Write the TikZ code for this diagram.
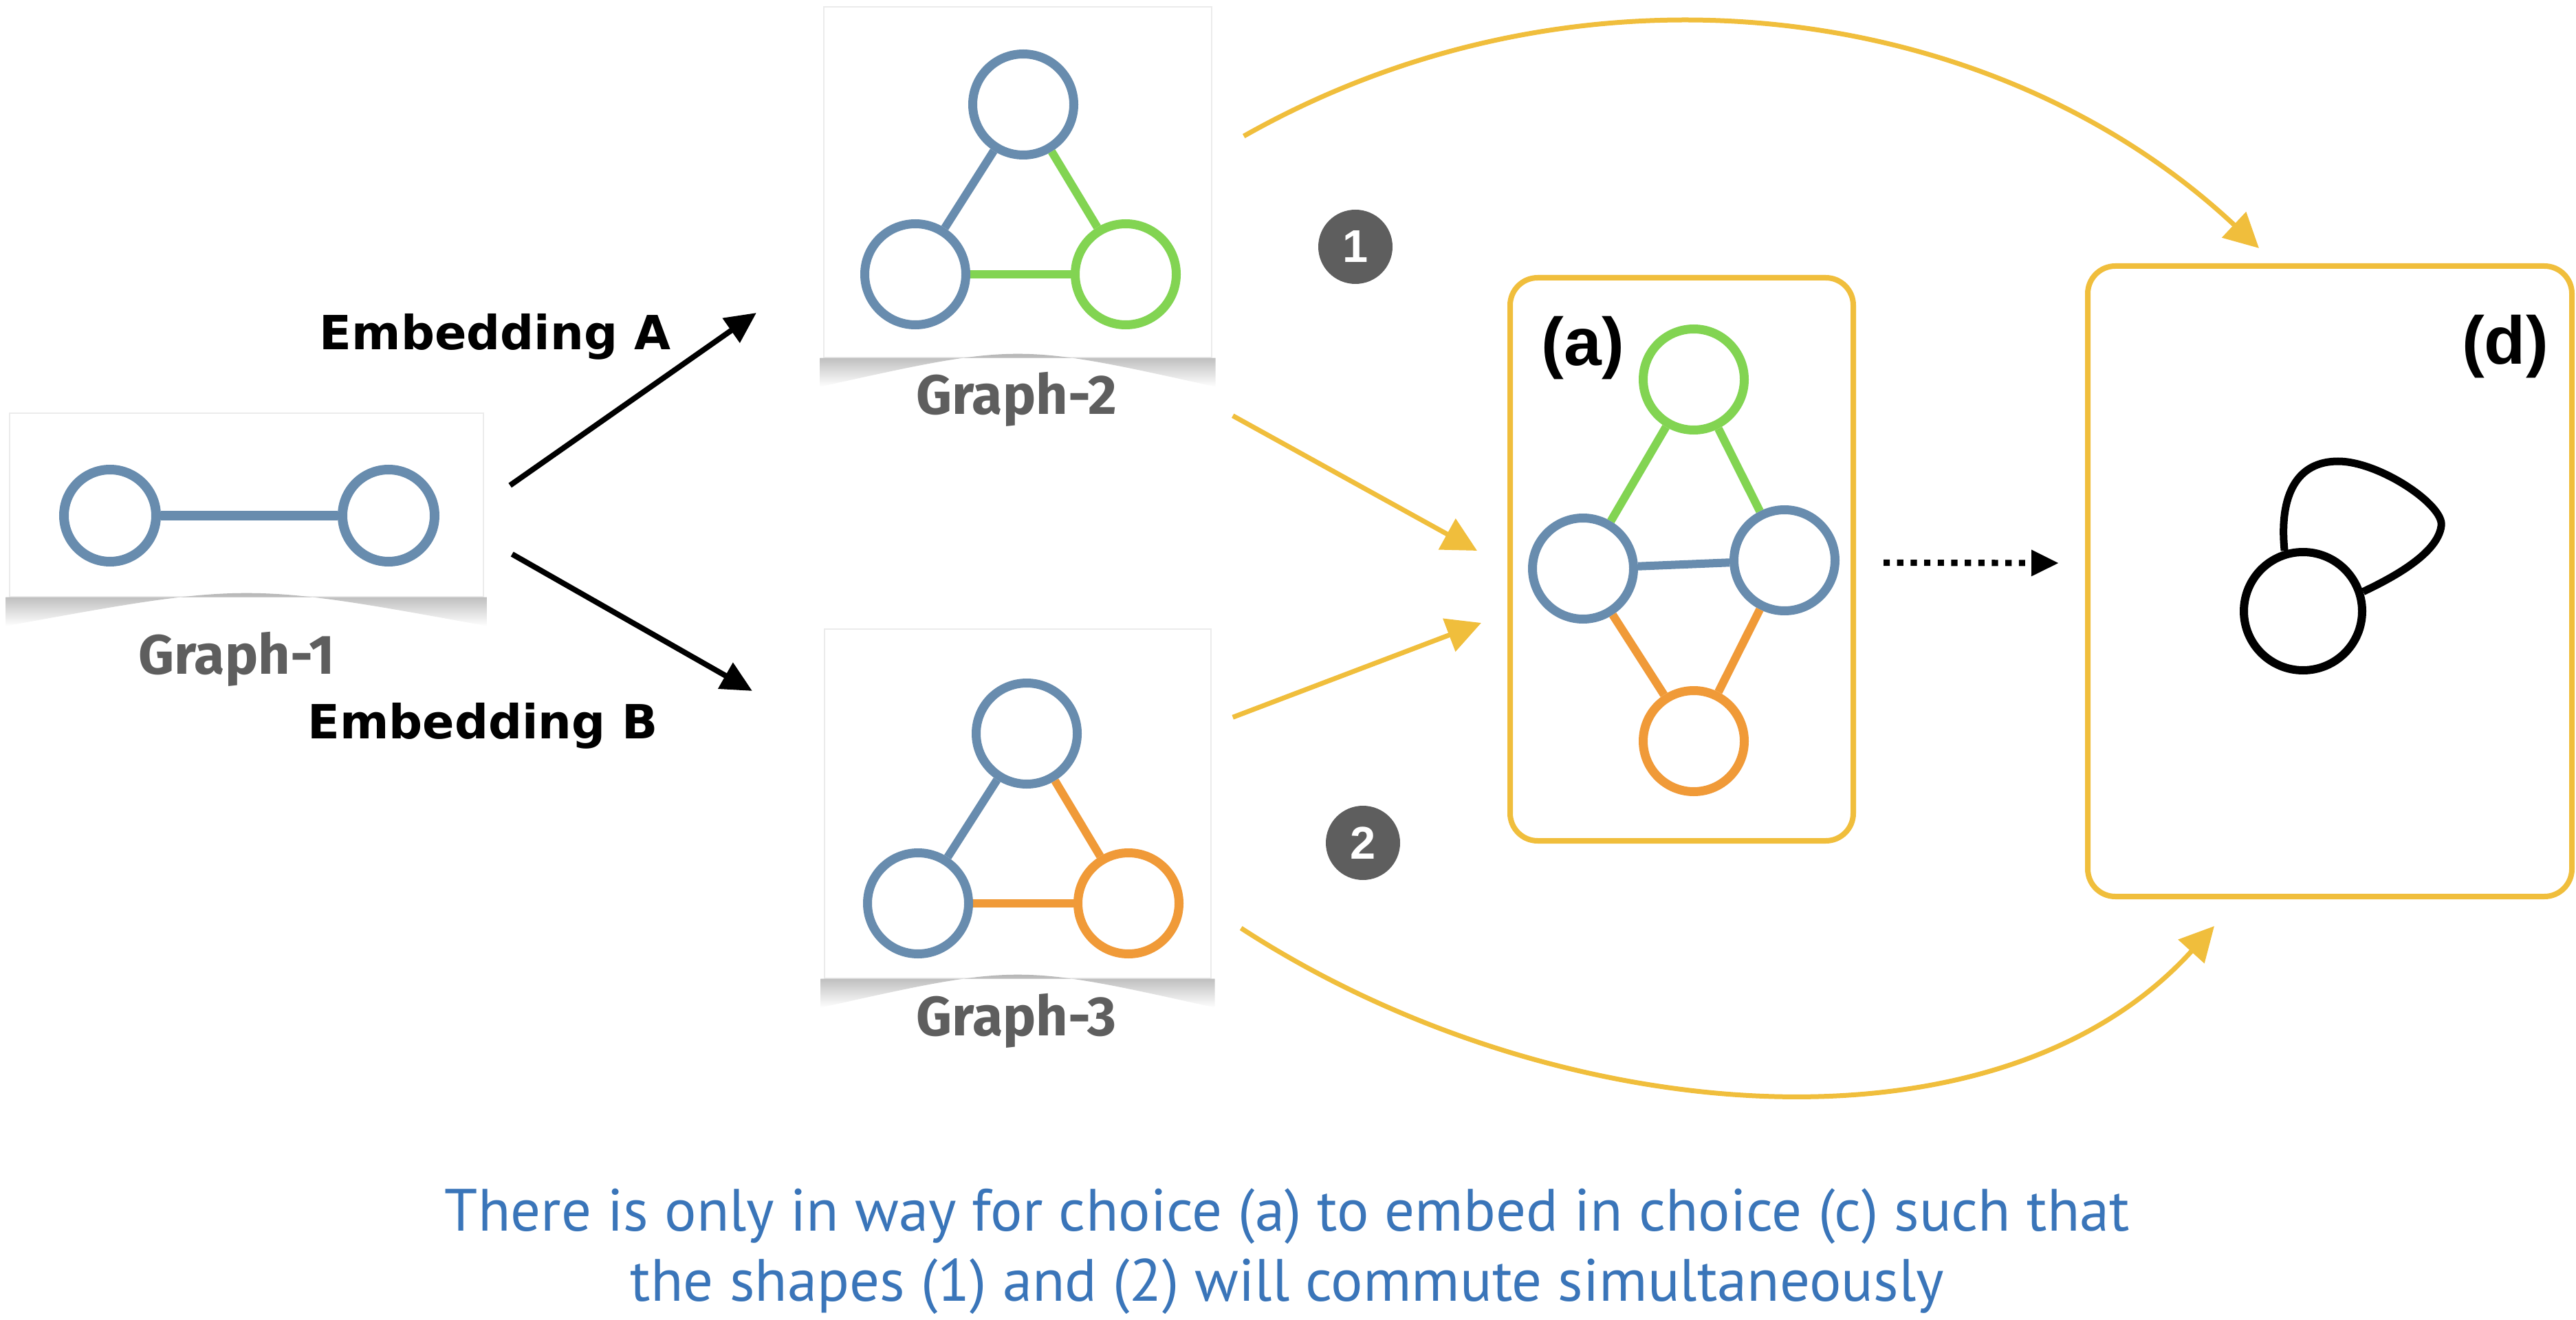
\documentclass[tikz,border=0pt]{standalone}
\usepackage{fontspec}
\setmainfont{Liberation Sans}
\newfontfamily\handfont{DejaVu Sans}
\newfontfamily\cardfont{Fira Sans}
\newfontfamily\notefont{PT Sans}
\usepackage{tikz}
\usetikzlibrary{arrows.meta, positioning, calc}

\definecolor{nodeblue}{HTML}{688CAE}
\definecolor{nodegreen}{HTML}{82D452}
\definecolor{nodeorange}{HTML}{F09A38}
\definecolor{sketchyellow}{HTML}{F0BE3C}
\definecolor{labelgray}{HTML}{5E5E5E}
\definecolor{noteblue}{HTML}{3A75B9}

\tikzset{
  card/.style={draw=black!8, fill=white, inner sep=0pt},
  gnode/.style={circle, draw, line width=1.3mm, minimum size=1.47cm, inner sep=0pt, fill=white},
  gedge/.style={line width=1.2mm},
  frame/.style={draw=sketchyellow, line width=0.8mm, rounded corners=0.4cm, inner sep=0pt},
  yarrow/.style={draw=sketchyellow, line width=0.7mm, -{Triangle[length=5mm,width=5mm]}},
  karrow/.style={line width=0.8mm, -{Triangle[length=4.5mm,width=4.2mm]}},
  dotarrow/.style={line width=2.6pt, dash pattern=on 2.6pt off 3pt, -{Triangle[length=4mm,width=3.6mm]}},
  badge/.style={circle, fill=labelgray, text=white, minimum size=1.08cm, inner sep=0pt,
    font=\fontsize{19}{19}\selectfont\bfseries},
  cardlabel/.style={anchor=base, text=labelgray, font=\cardfont\bfseries\fontsize{23}{23}\selectfont},
  handlabel/.style={anchor=base, font=\handfont\bfseries\fontsize{19.5}{19.5}\selectfont},
  boxlabel/.style={anchor=base, font=\bfseries\fontsize{28}{28}\selectfont},
}

% curled shadow under a card
\newcommand{\cardshadow}[1]{%
  \shade[top color=black!38, bottom color=white]
    ($(#1.south west)+(-0.05,0)$) -- ++(0,-0.42)
    .. controls ($(#1.south)+(0,0.22)$) .. ($(#1.south east)+(0.05,-0.42)$)
    -- ($(#1.south east)+(0.05,0)$) -- cycle;}

\begin{document}
\begin{tikzpicture}
  \useasboundingbox (0,0) rectangle (37.46,-19.20);

  % Graph-1
  \node[card, minimum width=6.89cm, minimum height=2.67cm] (g1) at (3.585,-7.345) {};
  \cardshadow{g1}
  \node[gnode, draw=nodeblue, minimum size=1.34cm, line width=1.4mm] (g1a) at (1.60,-7.50) {};
  \node[gnode, draw=nodeblue, minimum size=1.34cm, line width=1.4mm] (g1b) at (5.65,-7.50) {};
  \draw[gedge, nodeblue, line width=1.4mm] (g1a) -- (g1b);
  \node[cardlabel] (g1lab) at (3.44,-9.80) {Graph-1};

  % Graph-2
  \node[card, minimum width=5.64cm, minimum height=5.10cm] (g2) at (14.80,-2.65) {};
  \cardshadow{g2}
  \node[gnode, draw=nodeblue] (g2t) at (14.88,-1.52) {};
  \node[gnode, draw=nodeblue] (g2l) at (13.31,-3.99) {};
  \node[gnode, draw=nodegreen] (g2r) at (16.37,-3.99) {};
  \draw[gedge, nodeblue] (g2t) -- (g2l);
  \draw[gedge, nodegreen] (g2t) -- (g2r);
  \draw[gedge, nodegreen] (g2l) -- (g2r);
  \node[cardlabel] (g2lab) at (14.78,-6.02) {Graph-2};

  % Graph-3
  \node[card, minimum width=5.62cm, minimum height=5.08cm] (g3) at (14.80,-11.69) {};
  \cardshadow{g3}
  \node[gnode, draw=nodeblue] (g3t) at (14.93,-10.67) {};
  \node[gnode, draw=nodeblue] (g3l) at (13.35,-13.14) {};
  \node[gnode, draw=nodeorange] (g3r) at (16.41,-13.14) {};
  \draw[gedge, nodeblue] (g3t) -- (g3l);
  \draw[gedge, nodeorange] (g3t) -- (g3r);
  \draw[gedge, nodeorange] (g3l) -- (g3r);
  \node[cardlabel] (g3lab) at (14.78,-15.06) {Graph-3};

  % embeddings
  \coordinate (tipA) at (11.00,-4.55);
  \coordinate (tipB) at (10.94,-10.05);
  \draw[karrow] ($(g1.east)+(0.38,0.285)$) -- (tipA);
  \draw[karrow] ($(g1.east)+(0.41,-0.715)$) -- (tipB);
  \node[handlabel] (embA) at (7.20,-5.09) {Embedding A};
  \node[handlabel] (embB) at (7.02,-10.74) {Embedding B};

  % choice (a)
  \node[frame, minimum width=4.99cm, minimum height=8.19cm] (abox) at (24.455,-8.135) {};
  \node[boxlabel] (alab) at (23.02,-5.32) {(a)};
  \node[gnode, draw=nodegreen] (at) at (24.63,-5.52) {};
  \node[gnode, draw=nodeblue] (al) at (23.02,-8.27) {};
  \node[gnode, draw=nodeblue] (ar) at (25.95,-8.15) {};
  \node[gnode, draw=nodeorange] (ab) at (24.63,-10.78) {};
  \draw[gedge, nodegreen] (at) -- (al);
  \draw[gedge, nodegreen] (at) -- (ar);
  \draw[gedge, nodeblue] (al) -- (ar);
  \draw[gedge, nodeorange] (ab) -- (al);
  \draw[gedge, nodeorange] (ab) -- (ar);

  % choice (d)
  \node[frame, minimum width=7.04cm, minimum height=9.17cm] (dbox) at (33.88,-8.455) {};
  \node[boxlabel] (dlab) at (36.43,-5.30) {(d)};
  \node[circle, draw, line width=1.2mm, minimum size=1.72cm, inner sep=0pt] (dn) at (33.49,-8.89) {};
  \draw[line width=1.1mm] (dn.107)
    .. controls (33.14,-7.20) and (33.40,-6.71) .. (34.00,-6.71)
    .. controls (34.60,-6.71) and (35.55,-7.35) .. (35.50,-7.65)
    .. controls (35.45,-8.05) and (34.80,-8.40) .. (dn.18);

  % yellow maps
  \draw[yarrow] ($(g2.south east)+(0.30,-0.84)$) -- ($(abox.west)+(-0.44,0.125)$);
  \draw[yarrow] ($(g3.north east)+(0.31,-1.29)$) -- ($(abox.west)+(-0.38,-0.925)$);
  \draw[yarrow] ($(g2.east)+(0.46,0.67)$)
    .. controls (23.00,0.80) and (29.00,0.00) .. ($(dbox.north)+(-1.03,0.22)$);
  \draw[yarrow] ($(g3.east)+(0.43,-1.81)$)
    .. controls (22.50,-16.40) and (29.00,-17.00) .. ($(dbox.south)+(-1.68,-0.39)$);
  \draw[dotarrow] ($(abox.east)+(0.40,-0.05)$) -- ($(dbox.west)+(-0.38,0.265)$);

  % shapes 1 and 2
  \node[badge] (b1) at (19.71,-3.59) {1};
  \node[badge] (b2) at (19.82,-12.26) {2};

  % note
  \node[align=center, text=noteblue, font=\notefont\fontsize{24.7}{29}\selectfont] (note) at (18.72,-18.20)
    {There is only in way for choice (a) to embed in choice (c) such that\\
     the shapes (1) and (2) will commute simultaneously};
\end{tikzpicture}
\end{document}
